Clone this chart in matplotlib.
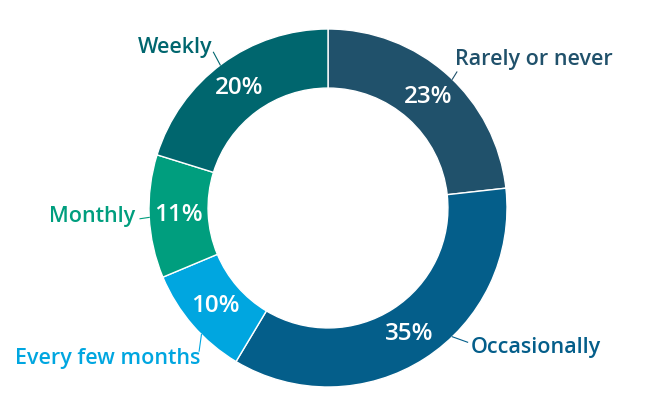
import numpy as np
import matplotlib.pyplot as plt

labels = ["Rarely or never", "Occasionally", "Every few months", "Monthly", "Weekly"]
values = [23, 35, 10, 11, 20]
colors = ["#20516b", "#045e8a", "#00a6e0", "#009e7e", "#00666e"]

# label anchor (data units, radius = 1), leader start angle / end point, alignment
label_pos = [(0.71, 0.827), (0.795, -0.777), (-0.715, -0.84), (-1.075, -0.05), (-0.648, 0.894)]
leader_ang = [46, -46, -135, -177, 127]
leader_end = [(0.72, 0.76), (0.78, -0.75), (-0.72, -0.80), (-1.05, -0.06), (-0.64, 0.87)]
label_ha = ["left", "left", "right", "right", "right"]

plt.rcParams["font.family"] = ["Open Sans", "DejaVu Sans"]

fig = plt.figure(figsize=(6.61, 3.94), dpi=100)
ax = fig.add_axes([0, 0, 1, 1])

scale = 179.0
cx, cy = 328.0, 208.0

wedges, _, autotexts = ax.pie(
    values,
    colors=colors,
    startangle=90,
    counterclock=False,
    radius=1.0,
    autopct="%d%%",
    pctdistance=0.835,
    wedgeprops=dict(width=0.33, edgecolor="white", linewidth=1),
    textprops=dict(color="white", fontsize=17.5, fontweight="semibold"),
)
for t, v in zip(autotexts, values):
    t.set_text(f"{v}%")

for lab, (tx, ty), ang, (ex, ey), ha, c in zip(labels, label_pos, leader_ang,
                                                leader_end, label_ha, colors):
    a = np.deg2rad(ang)
    ax.plot([np.cos(a), ex], [np.sin(a), ey], color=c, linewidth=0.8)
    ax.text(tx, ty, lab, ha=ha, va="center", color=c, fontsize=15.5,
            fontweight="semibold")

ax.set_xlim(-cx / scale, (661 - cx) / scale)
ax.set_ylim(-(394 - cy) / scale, cy / scale)
ax.set_aspect("equal")
ax.axis("off")

fig.savefig("out.png", dpi=100)
